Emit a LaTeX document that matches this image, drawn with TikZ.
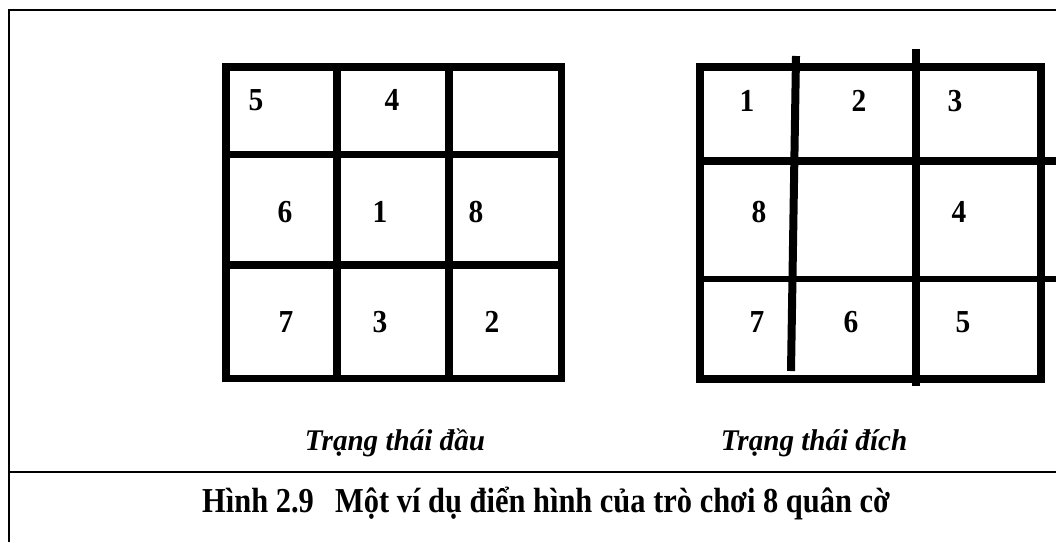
\documentclass[tikz,border=0pt]{standalone}
\usepackage{fontspec}
\setmainfont{Liberation Serif}
\begin{document}
\begin{tikzpicture}[x=1pt,y=-1pt,
  digit/.style={font=\fontsize{32}{34}\selectfont\bfseries, inner sep=0pt, anchor=center, xscale=0.92},
  lbl/.style={font=\fontsize{30}{32}\selectfont\bfseries\itshape, inner sep=0pt, anchor=base, xscale=0.97},
  captext/.style={font=\fontsize{35}{37}\selectfont\bfseries, inner sep=0pt, anchor=base west, xscale=0.87},
  frameline/.style={line width=2.5pt},
  gridline/.style={line width=7.5pt}]
\useasboundingbox (0,0) rectangle (1056,542);
% outer frame
\draw[frameline] (9,542) -- (9,10) -- (1056,10);
\draw[frameline] (9,472) -- (1056,472);
% left grid
\draw[gridline] (226,67) rectangle (561.5,378.5);
\draw[gridline] (337,67) -- (337,378.5);
\draw[gridline] (449,67) -- (449,378.5);
\draw[gridline] (226,154.5) -- (561.5,154.5);
\draw[gridline] (226,265) -- (561.5,265);
% right grid
\draw[gridline] (700,67) rectangle (1041,379);
\draw[gridline] (696,161) -- (1056,161);
\draw[line width=5.5pt] (697,279) -- (1056,279);
\draw[line width=8pt] (796,56) -- (791,371);
\draw[gridline] (916,49) -- (916,386);
% left digits
\node[digit] (a5) at (256,100) {5};
\node[digit] (a4) at (392,100) {4};
\node[digit] (a6) at (285,212) {6};
\node[digit] (a1) at (380,212) {1};
\node[digit] (a8) at (476,212) {8};
\node[digit] (a7) at (286,322) {7};
\node[digit] (a3) at (380,322) {3};
\node[digit] (a2) at (492,322) {2};
% right digits
\node[digit] (b1) at (747,101) {1};
\node[digit] (b2) at (859,101) {2};
\node[digit] (b3) at (955,101) {3};
\node[digit] (b8) at (759,212) {8};
\node[digit] (b4) at (959,212) {4};
\node[digit] (b7) at (757,322) {7};
\node[digit] (b6) at (851,322) {6};
\node[digit] (b5) at (963,322) {5};
% labels
\node[lbl] (l1) at (395,450) {Trạng thái đầu};
\node[lbl] (l2) at (814,450) {Trạng thái đích};
\node[captext] (c) at (202,512) {Hình 2.9\hspace{0.45em} Một ví dụ điển hình của trò chơi 8 quân cờ};
\end{tikzpicture}
\end{document}
